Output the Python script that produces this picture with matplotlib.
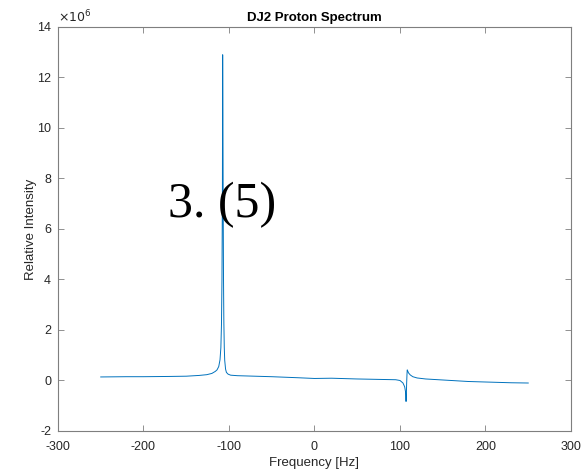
import matplotlib
matplotlib.use("Agg")
import matplotlib.pyplot as plt

# spectrum (frequency in Hz, intensity in units of 1e6)
freq = [-250, -220, -200, -170, -150, -135, -126, -120, -116, -114, -112, -110.5,
        -109.5, -108.8, -108.2, -107.7, -107.4, -107.1, -106.8, -106.4, -106,
        -105.5, -105, -104, -103, -101, -98, -90, -70, -50, -20, 0, 20, 50, 80,
        95, 100, 103.5, 105.5, 106.5, 107.1, 107.4, 107.8, 108.2, 108.5, 109,
        110, 112, 115, 120, 130, 150, 180, 200, 230, 250]
intensity_e6 = [0.14, 0.15, 0.15, 0.16, 0.17, 0.2, 0.23, 0.28, 0.36, 0.42, 0.55, 0.82,
                1.3, 2.2, 4.0, 7.5, 12.9, 10.5, 7.0, 4.0, 2.3,
                1.3, 0.8, 0.45, 0.32, 0.25, 0.21, 0.19, 0.17, 0.15, 0.11, 0.08, 0.09, 0.06, 0.04,
                0.03, 0.0, -0.1, -0.25, -0.45, -0.83, -0.6, -0.1, 0.25, 0.42, 0.38,
                0.3, 0.22, 0.15, 0.1, 0.06, 0.02, -0.04, -0.06, -0.09, -0.1]

xticks = [-300, -200, -100, 0, 100, 200, 300]
yticks = [-2, 0, 2, 4, 6, 8, 10, 12, 14]

plt.rcParams['font.family'] = ['Liberation Sans', 'DejaVu Sans']
plt.rcParams['axes.unicode_minus'] = False

fig = plt.figure(figsize=(5.84, 4.70), dpi=100)
ax = fig.add_axes([0.0993, 0.083, 0.8784, 0.8596])

ax.plot(freq, intensity_e6, color='#0072BD', lw=0.7)

ax.set_xlim(-300, 300)
ax.set_ylim(-2, 14)
ax.set_xticks(xticks)
ax.set_yticks(yticks)
ax.tick_params(direction='in', top=True, right=True, length=4, width=0.6,
               color='#7f7f7f', labelcolor='#262626', labelsize=9)
ax.tick_params(axis='x', pad=7)
ax.tick_params(axis='y', pad=5)
for s in ax.spines.values():
    s.set_color('#7f7f7f')
    s.set_linewidth(0.8)

ax.set_xlabel('Frequency [Hz]', fontsize=9.5, color='#262626', labelpad=3)
ax.set_ylabel('Relative Intensity', fontsize=9.5, color='#262626', labelpad=0)
ax.set_title('DJ2 Proton Spectrum', fontsize=9.5, fontweight='bold', pad=4)
ax.text(0.0, 1.004, r'$\times 10^{6}$', transform=ax.transAxes, fontsize=9,
        color='#262626', ha='left', va='bottom')

fig.text(0.380, 0.564, '3. (5)', fontsize=36, family=['Liberation Serif', 'DejaVu Serif'],
         ha='center', va='center', zorder=5)

fig.savefig('out.png', dpi=100)
